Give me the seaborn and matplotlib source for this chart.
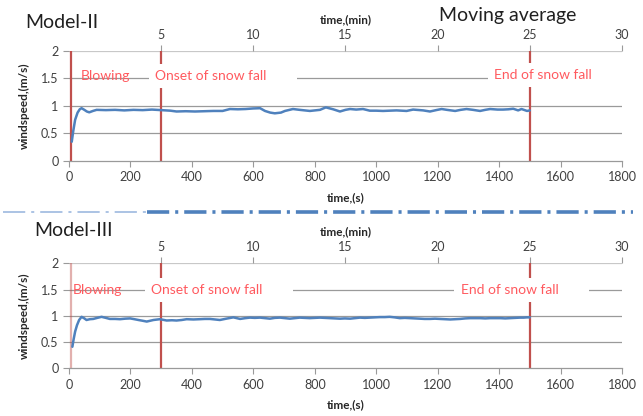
import matplotlib
matplotlib.use("Agg")
import matplotlib.pyplot as plt
import seaborn as sns
import pandas as pd
from matplotlib.lines import Line2D

# model II moving average (time s, windspeed m/s)
model2_time = [9, 14, 20, 28, 35, 41, 50, 58, 66, 78, 90, 120, 150, 180, 210, 240, 270, 300,
               330, 350, 380, 410, 440, 470, 500, 524, 550, 575, 599, 622, 638, 655, 670, 690,
               703, 729, 751, 784, 817, 836, 860, 882, 900, 915, 935, 957, 979, 1000, 1022,
               1044, 1066, 1099, 1120, 1153, 1175, 1195, 1213, 1230, 1257, 1275, 1294, 1315,
               1338, 1355, 1371, 1395, 1413, 1430, 1446, 1462, 1473, 1491, 1500]
model2_speed = [0.35, 0.55, 0.75, 0.88, 0.94, 0.96, 0.93, 0.90, 0.885, 0.91, 0.93, 0.925, 0.93,
                0.92, 0.93, 0.925, 0.935, 0.925, 0.915, 0.90, 0.905, 0.90, 0.905, 0.91, 0.91,
                0.945, 0.94, 0.945, 0.955, 0.96, 0.91, 0.88, 0.867, 0.88, 0.91, 0.945, 0.93,
                0.91, 0.93, 0.975, 0.94, 0.90, 0.93, 0.945, 0.935, 0.945, 0.915, 0.915, 0.91,
                0.915, 0.92, 0.91, 0.935, 0.92, 0.90, 0.925, 0.945, 0.93, 0.91, 0.93, 0.945,
                0.93, 0.91, 0.93, 0.945, 0.935, 0.935, 0.94, 0.95, 0.92, 0.945, 0.91, 0.92]

# model III moving average
model3_time = [11, 15, 20, 26, 33, 41, 50, 57, 68, 79, 92, 106, 120, 133, 150, 166, 183, 199,
               213, 226, 240, 253, 264, 275, 296, 318, 335, 350, 367, 383, 405, 426, 442, 459,
               475, 491, 512, 535, 557, 574, 589, 605, 622, 638, 654, 670, 687, 703, 719, 735,
               751, 767, 784, 800, 817, 833, 849, 866, 882, 898, 915, 931, 947, 963, 979, 995,
               1012, 1028, 1044, 1060, 1077, 1093, 1110, 1126, 1142, 1158, 1175, 1191, 1207,
               1224, 1241, 1257, 1273, 1290, 1306, 1322, 1338, 1355, 1371, 1388, 1404, 1420,
               1436, 1452, 1468, 1480, 1491, 1500]
model3_speed = [0.41, 0.55, 0.70, 0.82, 0.92, 0.98, 0.95, 0.92, 0.935, 0.94, 0.96, 0.98, 0.96,
                0.94, 0.94, 0.935, 0.945, 0.95, 0.935, 0.92, 0.905, 0.89, 0.905, 0.92, 0.935,
                0.91, 0.915, 0.91, 0.92, 0.935, 0.93, 0.935, 0.94, 0.94, 0.93, 0.92, 0.945,
                0.97, 0.94, 0.955, 0.965, 0.96, 0.965, 0.955, 0.945, 0.96, 0.965, 0.955, 0.945,
                0.955, 0.965, 0.96, 0.955, 0.96, 0.965, 0.96, 0.955, 0.95, 0.945, 0.95, 0.945,
                0.955, 0.965, 0.96, 0.965, 0.97, 0.975, 0.975, 0.98, 0.97, 0.955, 0.96, 0.955,
                0.95, 0.945, 0.94, 0.94, 0.945, 0.94, 0.935, 0.93, 0.935, 0.94, 0.95, 0.955,
                0.955, 0.955, 0.95, 0.955, 0.955, 0.955, 0.95, 0.955, 0.96, 0.965, 0.965,
                0.97, 0.97]

# events (s)
event_times = [5, 300, 1500]
event_labels = ["Blowing", "Onset of snow fall", "End of snow fall"]

sec_ticks = [0, 200, 400, 600, 800, 1000, 1200, 1400, 1600, 1800]
min_ticks = [5, 10, 15, 20, 25, 30]
speed_ticks = [0, 0.5, 1, 1.5, 2]
speed_tick_labels = ["0", "0.5", "1", "1.5", "2"]

sns.set_theme(style="white")
plt.rcParams["font.family"] = ["Lato", "DejaVu Sans"]
plt.rcParams["lines.scale_dashes"] = False

BLUE = "#4F81BD"
RED = "#C0504D"
TEXT_RED = "#FF5A5F"
GRID = "#9A9A9A"


def draw_panel(ax, times, speeds, label_pos, first_alpha):
    df = pd.DataFrame({"time": times, "speed": speeds})
    sns.lineplot(data=df, x="time", y="speed", ax=ax, color=BLUE, linewidth=1.8, zorder=3)

    ax.set_xlim(0, 1800)
    ax.set_ylim(0, 2)
    ax.set_xticks(sec_ticks)
    ax.set_yticks(speed_ticks)
    ax.set_yticklabels(speed_tick_labels)
    ax.set_xlabel("time,(s)", fontsize=8.5, fontweight="bold", labelpad=6)
    ax.set_ylabel("windspeed,(m/s)", fontsize=8.5, fontweight="bold", labelpad=8)
    ax.tick_params(axis="both", labelsize=9, colors="#404040", length=4, width=0.8,
                   direction="out", bottom=True, left=True)
    ax.tick_params(axis="both", color=GRID)
    for y in speed_ticks[1:-1]:
        ax.axhline(y, color=GRID, lw=0.9, zorder=0)
    ax.axhline(2, color="#C8C8C8", lw=1.6, zorder=0)
    for side in ["left", "right", "top"]:
        ax.spines[side].set_visible(False)
    ax.spines["bottom"].set_color(GRID)
    ax.spines["bottom"].set_linewidth(0.9)

    for i, t in enumerate(event_times):
        alpha = first_alpha if i == 0 else 1.0
        ax.axvline(t, color=RED, lw=1.6, alpha=alpha, zorder=2)

    box = dict(boxstyle="square,pad=0.45", facecolor="white", edgecolor="none")
    for i, (lx, ly) in enumerate(label_pos):
        txt = event_labels[i]
        kw = {}
        if i > 0:
            txt = txt + "       "
            kw["bbox"] = box
        ax.text(lx, ly, txt, color=TEXT_RED, fontsize=10, va="center", ha="left",
                zorder=4, clip_on=True, **kw)

    secax = ax.secondary_xaxis("top", functions=(lambda s: s / 60, lambda m: m * 60))
    secax.set_xticks(min_ticks)
    secax.tick_params(labelsize=9, colors="#404040", length=4, width=0.8, color=GRID)
    secax.spines["top"].set_visible(False)
    secax.set_xlabel("time,(min)", fontsize=8.5, fontweight="bold", labelpad=4)


fig = plt.figure(figsize=(6.43, 4.16), dpi=100)
ax_top = fig.add_axes([0.1073, 0.613, 0.86, 0.2644])
ax_bot = fig.add_axes([0.1073, 0.1147, 0.86, 0.2524])

draw_panel(ax_top, model2_time, model2_speed,
           [(39, 1.545), (280, 1.545), (1383, 1.56)], 1.0)
draw_panel(ax_bot, model3_time, model3_speed,
           [(13, 1.49), (267, 1.49), (1275, 1.49)], 0.45)

fig.text(0.039, 0.947, "Model-II", fontsize=14, va="center", ha="left", color="#202020")
fig.text(0.789, 0.962, "Moving average", fontsize=14, va="center", ha="center", color="#202020")
fig.text(0.054, 0.447, "Model-III", fontsize=14, va="center", ha="left", color="#202020")

# dash-dot separator between the panels
fig.add_artist(Line2D([0.005, 0.228], [0.491, 0.491], transform=fig.transFigure,
                      color="#9DB9DF", lw=1.2, dashes=(16, 4.3, 2.2, 4.3)))
fig.add_artist(Line2D([0.228, 0.985], [0.491, 0.491], transform=fig.transFigure,
                      color=BLUE, lw=2.6, dashes=(16, 4.3, 2.2, 4.3)))

plt.savefig("out.png", dpi=100)
